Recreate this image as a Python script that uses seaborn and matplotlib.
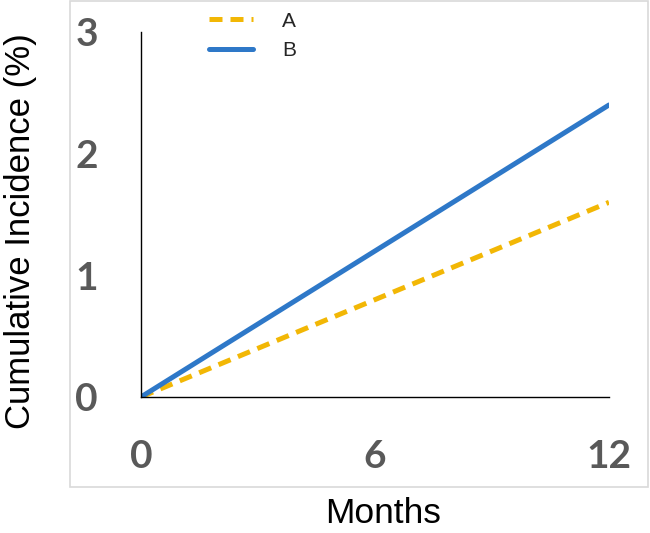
import seaborn as sns
import matplotlib.pyplot as plt
from matplotlib.patches import Rectangle

# data
months = [0, 12]
series_a = [0, 1.6]
series_b = [0, 2.4]
x_ticks = [0, 6, 12]
y_ticks = [0, 1, 2, 3]

sns.set_style("white")
plt.rcParams['font.family'] = ['Liberation Sans', 'DejaVu Sans']

fig = plt.figure(figsize=(6.5, 5.33), dpi=100)
ax = fig.add_axes([0.2169, 0.2552, 0.72, 0.6848])

# light grey frame round the whole chart
fig.patches.append(Rectangle((0.1077, 0.0863), 0.889, 0.912, transform=fig.transFigure,
                             fill=False, edgecolor='#d9d9d9', linewidth=1.2))

sns.lineplot(x=months, y=series_a, ax=ax, color='#f2b705', linewidth=3.6,
             linestyle=(0, (2.6, 1.6)), label='A')
sns.lineplot(x=months, y=series_b, ax=ax, color='#2e78c8', linewidth=3.6, label='B')

ax.set_xlim(0, 12)
ax.set_ylim(0, 3)
ax.set_xticks(x_ticks)
ax.set_yticks(y_ticks)
ax.set_xlabel('')
ax.set_ylabel('')

for s in ['top', 'right']:
    ax.spines[s].set_visible(False)
for s in ['left', 'bottom']:
    ax.spines[s].set_color('black')
    ax.spines[s].set_linewidth(1.0)

ax.tick_params(axis='both', length=0, labelcolor='#595959')
ax.tick_params(axis='x', pad=30)
ax.tick_params(axis='y', pad=31)
for lab in ax.get_xticklabels() + ax.get_yticklabels():
    lab.set_fontfamily(['Lato', 'DejaVu Sans'])
    lab.set_fontweight('bold')
    lab.set_fontsize(28)

fig.text(0.031, 0.567, 'Cumulative Incidence (%)', rotation=90, ha='center', va='center',
         fontsize=25, color='black')
fig.text(0.589, 0.0375, 'Months', ha='center', va='center', fontsize=25.5, color='black')

ax.legend(loc='upper left', bbox_to_anchor=(0.3215, 0.978), bbox_transform=fig.transFigure,
          frameon=False, fontsize=15, handlelength=2.1, handletextpad=1.4,
          borderpad=0, borderaxespad=0, labelspacing=0.5)

fig.savefig('out.png', dpi=100)
